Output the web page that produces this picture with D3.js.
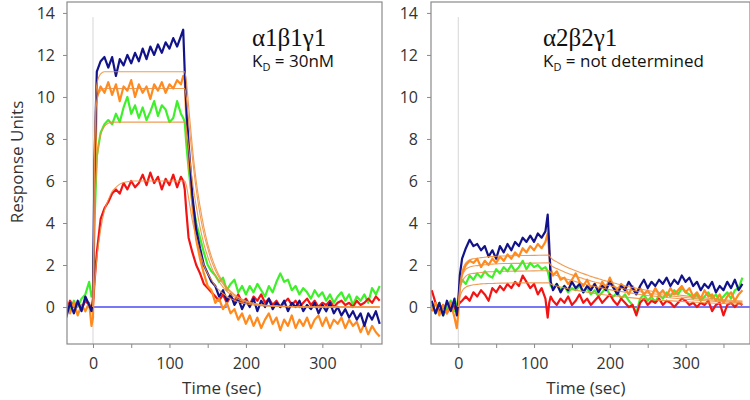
<!DOCTYPE html>
<html><head><meta charset="utf-8">
<script src="https://cdn.jsdelivr.net/npm/d3@7"></script>
<style>body{margin:0;background:#fff}svg{display:block}</style>
</head><body>
<svg id="c" width="750" height="400"></svg>
<script>
// ---- sampling times (sec) of the traces ----
const timeGrid = [-35,-30,-25,-20,-15,-10,-5,-2,
  0,2,5,
  10,15,20,25,30,35,40,45,50,55,60,65,70,75,80,85,90,95,100,105,110,115,
  118,120,122,
  125,130,135,140,145,150,155,160,165,170,175,180,185,190,195,200,205,210,215,220,
  225,230,235,240,245,250,255,260,265,270,275,280,285,290,295,300,305,310,315,320,
  325,330,335,340,345,350,355,360,365,370,375];

// ---- left panel (α1β1γ1) traces ----
const leftBlue = [-0.5,0.2,-0.3,0.3,-0.2,0.5,0.1,-0.2,
  0.4,7.0,11.2,
  11.7,11.9,11.4,11.9,11.0,11.8,11.5,12.0,11.6,12.1, 11.7,12.3,11.8,12.4,12.0,12.5,12.1,12.6,12.3,12.8, 12.4,12.9,
  13.2,11.2,9.6,
  7.8,5.3,3.7,2.8,2.0,1.6,1.2,1.0,0.5,0.8, 0.3,0.6,0.1,0.4,-0.1,0.3,0.0,0.4,-0.2,0.3,
  0.0,0.4,-0.1,0.2,0.0,0.3,-0.2,0.2,0.0,0.3, -0.2,0.1,-0.1,0.2,-0.3,0.1,-0.2,0.2,-0.3,0.0,
  -0.4,-0.1,-0.5,-0.2,-0.6,-0.3,-0.9,-0.3,-0.6,-0.2, -0.8];
const leftOrange = [0.3,-0.3,0.2,-0.4,0.1,-0.2,0.2,-0.9,
  -0.5,5.0,10.0,
  10.5,10.2,10.7,10.1,10.6,9.8,10.5,10.3,10.8,10.0, 10.6,10.2,10.5,9.9,10.6,10.3,10.7,10.2,10.6,10.4, 10.8,10.6,
  11.0,10.8,9.0,
  7.2,4.8,3.2,2.3,1.6,1.0,0.8,0.2,0.4,-0.1, 0.2,-0.3,-0.1,-0.6,-0.3,-0.8,-0.4,-0.9,-0.5,-1.0,
  -0.6,-0.3,-0.8,-0.5,-1.1,-0.6,-0.9,-0.4,-1.0,-0.6, -0.9,-0.5,-1.0,-0.6,-0.4,-0.9,-0.5,-1.0,-0.6,-0.8,
  -0.5,-1.0,-0.6,-0.9,-0.7,-1.2,-0.8,-1.3,-0.9,-1.2, -1.4];
const leftGreen = [0.2,-0.2,0.3,0.0,0.4,0.6,1.2,0.5,
  0.8,4.0,7.2,
  8.3,8.7,8.9,8.7,9.2,8.8,9.5,10.0,9.2,9.6, 9.0,9.5,8.9,9.3,9.8,9.1,9.6,9.4,8.8,9.0, 9.8,9.2,
  9.0,8.8,7.8,
  6.6,5.0,4.0,3.3,2.6,2.0,1.7,1.5,1.2,1.4, 0.8,1.1,1.3,0.7,1.0,0.6,1.0,0.7,1.1,0.8,
  0.5,1.0,0.7,1.2,1.6,1.2,1.3,0.8,1.0,0.6, 0.9,0.7,0.4,0.8,0.5,0.7,0.3,0.6,0.2,0.5,
  0.7,0.3,0.6,0.1,0.5,0.3,0.6,0.2,0.9,0.6, 1.0];
const leftRed = [-0.2,0.3,0.0,0.2,-0.1,0.3,0.1,0.0,
  0.1,1.2,2.6,
  4.2,4.7,5.0,5.4,5.6,5.4,5.9,5.6,6.0,5.7, 5.9,6.3,5.8,6.4,5.9,6.2,5.6,6.1,5.8,6.3, 5.7,6.2,
  6.0,5.6,4.6,
  3.3,2.6,2.0,1.6,1.1,0.9,0.7,0.5,0.3,0.6, 0.2,0.5,0.3,0.6,0.2,0.4,0.1,0.5,0.3,0.6,
  0.2,0.4,0.1,0.3,0.0,0.2,0.4,0.1,0.3,0.0, 0.2,0.4,0.1,0.3,0.0,0.2,0.1,0.3,0.0,0.2,
  0.3,0.1,0.2,0.0,0.3,0.1,0.2,0.4,0.2,0.5, 0.3];

// ---- right panel (α2β2γ1) traces ----
const rightBlue = [0.3,-0.3,0.2,-0.4,0.3,-0.2,0.4,-0.4,
  0.2,1.5,2.3,
  2.8,3.2,2.9,3.0,2.7,2.9,2.4,2.7,2.3,2.9, 2.6,3.0,2.7,3.1,2.9,3.3,3.1,3.4,3.1,3.5, 3.3,3.6,
  4.4,3.0,1.2,
  0.8,1.1,0.7,1.0,0.8,1.2,0.9,1.1,0.7,1.0, 0.8,1.1,0.7,1.0,0.8,1.2,0.9,0.6,1.0,0.8,
  1.2,0.9,0.6,1.0,1.3,0.9,1.2,1.0,1.3,1.1, 1.4,1.0,1.3,1.1,1.5,1.2,1.4,1.0,1.2,0.8,
  1.1,0.9,1.2,0.7,1.0,0.8,1.2,0.9,1.3,0.8, 1.1];
const rightOrange = [-0.2,0.2,-0.4,0.1,-0.3,0.2,-0.5,-1.0,
  -0.3,1.0,1.6,
  2.0,2.2,2.1,2.3,1.9,2.2,2.0,2.3,2.1,2.4, 2.2,2.5,2.3,2.6,2.4,2.8,2.6,2.9,2.7,3.0, 2.8,3.1,
  3.5,2.6,1.8,
  1.5,1.7,1.3,1.4,1.1,1.3,1.6,1.2,1.0,1.3, 0.9,1.1,0.8,1.2,0.9,1.4,1.0,0.8,1.1,0.9,
  0.6,1.0,0.7,0.9,0.6,0.8,0.5,0.9,0.6,0.8, 0.5,0.9,0.6,0.8,1.0,0.7,0.9,0.5,0.7,0.4,
  0.8,0.5,0.6,0.3,0.6,0.2,0.5,0.7,0.3,0.6, 0.8];
const rightGreen = [0.1,-0.3,0.2,-0.4,0.0,0.3,-0.2,0.1,
  0.4,1.0,1.3,
  1.1,1.5,1.3,1.6,1.4,1.7,1.5,1.4,1.8,1.6, 1.9,1.7,2.0,1.7,1.9,2.2,1.8,2.1,1.9,2.0, 1.8,1.9,
  1.7,1.4,1.0,
  0.9,1.1,0.8,1.0,0.7,0.9,0.8,1.0,0.7,0.9, 0.6,0.8,0.5,0.7,0.9,0.6,0.5,0.7,0.4,0.6,
  0.3,0.1,-0.3,0.4,0.6,0.3,0.5,0.2,0.6,0.4, 0.7,0.5,0.8,0.6,0.9,0.7,0.6,0.4,0.6,0.3,
  0.5,0.7,0.4,0.6,0.3,0.5,0.7,0.4,0.8,0.9, 1.4];
const rightRed = [0.8,0.2,-0.2,0.1,-0.3,0.2,0.0,-0.2,
  0.1,0.2,0.3,
  0.5,0.3,0.7,0.5,0.8,0.6,0.3,0.9,0.7,1.0, 0.8,1.1,0.9,1.2,1.0,1.5,1.2,0.9,1.1,0.6, 0.9,0.4,
  -0.5,0.2,0.5,
  0.3,0.1,0.4,0.2,0.5,0.1,0.3,0.6,0.2,0.4, 0.1,0.3,0.5,0.2,0.4,0.6,0.3,0.1,0.4,0.2,
  0.0,0.1,-0.4,0.2,0.4,0.1,0.3,0.2,0.4,0.1, 0.3,0.2,0.0,0.2,0.4,0.3,0.1,0.2,0.0,0.2,
  0.1,0.3,-0.2,0.1,0.2,-0.4,0.1,0.2,0.0,0.2, 0.1];

// ---- fitted curves ----
const fitTime = [0,2,5,10,15,20,25,30,35,40, 45,50,60,80,100,120,122,125,130,135,
  140,145,150,155,160,165,170,175,180,185, 190,195,200,210,220,240,260,300,340,375];
const leftFitA = [0,7.5,10.6,11.1,11.2,11.2,11.2,11.2,11.2,11.2, 11.2,11.2,11.2,11.2,11.2,11.2,10.8,9.6,7.6,6.0,
  4.8,3.8,3.0,2.4,1.9,1.5,1.2,0.95,0.75,0.6, 0.47,0.37,0.29,0.18,0.11,0.05,0.02,0,0,0];
const leftFitB = [0,6.8,9.8,10.3,10.4,10.4,10.4,10.4,10.4,10.4, 10.4,10.4,10.4,10.4,10.4,10.4,10.0,8.9,7.1,5.6,
  4.4,3.5,2.8,2.2,1.75,1.4,1.1,0.88,0.7,0.55, 0.44,0.35,0.27,0.17,0.1,0.05,0.02,0,0,0];
const leftFitC = [0,4.0,6.8,8.2,8.6,8.75,8.8,8.8,8.8,8.8, 8.8,8.8,8.8,8.8,8.8,8.8,8.5,7.6,6.0,4.8,
  3.8,3.0,2.4,1.9,1.5,1.2,0.95,0.75,0.6,0.47, 0.37,0.29,0.23,0.14,0.09,0.04,0.02,0,0,0];
const leftFitD = [0,1.0,2.3,3.7,4.6,5.1,5.5,5.7,5.85,5.92, 5.96,6.0,6.0,6.0,6.0,6.0,5.8,5.2,4.1,3.3,
  2.6,2.0,1.6,1.3,1.0,0.8,0.65,0.5,0.4,0.32, 0.25,0.2,0.16,0.1,0.06,0.03,0.01,0,0,0];
const rightFitA = [0,1.0,1.7,2.1,2.25,2.3,2.32,2.35,2.37,2.4, 2.4,2.42,2.43,2.45,2.46,2.47,2.35,2.25,2.15,2.05,
  1.95,1.87,1.8,1.73,1.66,1.59,1.52,1.46,1.4,1.35, 1.29,1.24,1.19,1.1,1.01,0.86,0.73,0.53,0.38,0.28];
const rightFitB = [0,0.85,1.45,1.8,1.9,1.95,1.97,2.0,2.01,2.03, 2.04,2.05,2.07,2.08,2.09,2.1,2.0,1.92,1.83,1.75,
  1.67,1.6,1.53,1.47,1.41,1.35,1.3,1.24,1.19,1.15, 1.1,1.05,1.01,0.93,0.86,0.73,0.62,0.45,0.32,0.24];
const rightFitC = [0,0.7,1.2,1.47,1.57,1.6,1.62,1.64,1.66,1.68, 1.68,1.69,1.7,1.71,1.72,1.73,1.65,1.58,1.5,1.43,
  1.37,1.31,1.26,1.21,1.16,1.11,1.06,1.02,0.98,0.94, 0.9,0.87,0.83,0.77,0.71,0.6,0.51,0.37,0.27,0.2];
const rightFitD = [0,0.45,0.75,0.95,1.02,1.06,1.08,1.1,1.11,1.12, 1.12,1.13,1.14,1.15,1.15,1.15,1.1,1.05,1.0,0.95,
  0.91,0.87,0.83,0.8,0.77,0.74,0.71,0.68,0.65,0.62, 0.6,0.57,0.55,0.51,0.47,0.4,0.34,0.25,0.18,0.13];

// ---- axis ticks / labels ----
const xTicks = [0,50,100,150,200,250,300,350];
const xLabeled = [0,100,200,300];
const yTicks = [0,2,4,6,8,10,12,14];
const leftTitle = "α1β1γ1", leftKd = " = 30nM";
const rightTitle = "α2β2γ1", rightKd = " = not determined";
const leftBaselineEnd = 175, rightBaselineEnd = 385;

const colors = {blue:"#12128a", orange:"#ff8a1e", green:"#3ef02a", red:"#f21414", fit:"#f09040", base:"#4a4af5"};
const svg = d3.select("#c");
const FONT = "'Open Sans', sans-serif";
const y = d3.scaleLinear().domain([-1.76, 14.52]).range([344, 2]);

function panel(id, xDom, xRng, traces, fits, baseEnd, title, kd, tx, labelPad) {
  const x = d3.scaleLinear().domain(xDom).range(xRng);
  const g = svg.append("g");
  g.append("clipPath").attr("id", "clip" + id).append("rect")
    .attr("x", xRng[0]).attr("y", 2).attr("width", xRng[1] - xRng[0]).attr("height", 342);
  const plot = g.append("g").attr("clip-path", `url(#clip${id})`);
  // vertical marker at t = 0
  plot.append("line").attr("x1", x(0)).attr("x2", x(0)).attr("y1", y(13.8)).attr("y2", y(-1.76))
    .attr("stroke", "#d6d6d6").attr("stroke-width", 1);
  // zero baseline
  plot.append("line").attr("x1", x(0)).attr("x2", x(baseEnd)).attr("y1", y(0)).attr("y2", y(0))
    .attr("stroke", colors.base).attr("stroke-width", 1.6);
  const line = d3.line().x((d, i) => x(timeGrid[i])).y(d => y(d));
  traces.forEach(([vals, col]) => {
    plot.append("path").datum(vals).attr("d", line).attr("fill", "none")
      .attr("stroke", col).attr("stroke-width", 2.2).attr("stroke-linejoin", "round");
  });
  const fline = d3.line().x((d, i) => x(fitTime[i])).y(d => y(d)).curve(d3.curveMonotoneX);
  fits.forEach(vals => {
    plot.append("path").datum(vals).attr("d", fline).attr("fill", "none")
      .attr("stroke", colors.fit).attr("stroke-width", 1.1).attr("opacity", 0.9);
  });
  // frame
  g.append("rect").attr("x", xRng[0]).attr("y", 2).attr("width", xRng[1] - xRng[0]).attr("height", 342)
    .attr("fill", "none").attr("stroke", "#8a8a8a").attr("stroke-width", 1.2);
  // axes
  const xa = g.append("g").attr("transform", "translate(0,344)")
    .call(d3.axisBottom(x).tickValues(xTicks).tickSize(4).tickPadding(10)
      .tickFormat(d => xLabeled.includes(d) ? d : ""));
  const ya = g.append("g").attr("transform", `translate(${xRng[0]},0)`)
    .call(d3.axisLeft(y).tickValues(yTicks).tickSize(4).tickPadding(labelPad));
  [xa, ya].forEach(a => {
    a.select(".domain").remove();
    a.selectAll(".tick line").attr("stroke", "#8a8a8a");
    a.selectAll("text").attr("font-family", FONT).attr("font-size", 16).attr("fill", "#333");
  });
  // axis title
  g.append("text").attr("x", (x(0) + x(300)) / 2 + 14).attr("y", 394).attr("text-anchor", "middle")
    .attr("font-family", FONT).attr("font-size", 17).attr("fill", "#333").text("Time (sec)");
  // panel titles
  g.append("text").attr("x", tx).attr("y", 46).attr("font-family", "'Liberation Serif', serif")
    .attr("font-size", 25).attr("fill", "#111").text(title);
  const t = g.append("text").attr("x", tx).attr("y", 67).attr("font-family", FONT)
    .attr("font-size", 17).attr("fill", "#111");
  t.append("tspan").text("K");
  t.append("tspan").attr("font-size", 11).attr("dy", 4).text("D");
  t.append("tspan").attr("dy", -4).text(kd);
}

panel("L", [-34, 378], [67, 382],
  [[leftGreen, colors.green], [leftRed, colors.red], [leftOrange, colors.orange], [leftBlue, colors.blue]],
  [leftFitA, leftFitB, leftFitC, leftFitD], leftBaselineEnd, leftTitle, leftKd, 252, 8);
panel("R", [-36, 385], [431, 750],
  [[rightGreen, colors.green], [rightRed, colors.red], [rightOrange, colors.orange], [rightBlue, colors.blue]],
  [rightFitA, rightFitB, rightFitC, rightFitD], rightBaselineEnd, rightTitle, rightKd, 543, 9);

svg.append("text").attr("transform", "translate(18,162) rotate(-90)").attr("text-anchor", "middle")
  .attr("dominant-baseline", "middle").attr("font-family", FONT).attr("font-size", 17).attr("fill", "#333")
  .text("Response Units");
</script>
</body></html>
